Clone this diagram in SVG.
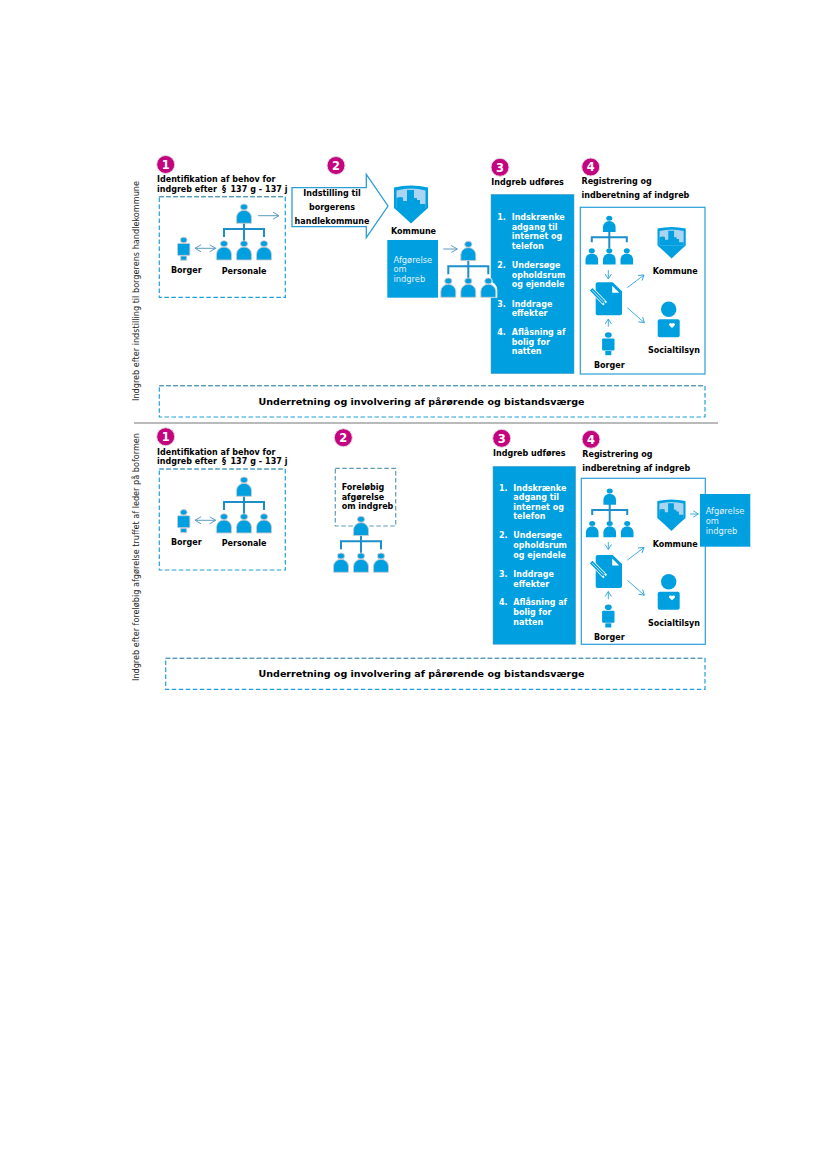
<svg xmlns="http://www.w3.org/2000/svg" width="827" height="1169" viewBox="0 0 827 1169">
<style>
text{font-family:"DejaVu Sans","Liberation Sans",sans-serif;fill:#000}
.b{font-weight:700;font-size:8px}
.u{font-weight:700;font-size:9.55px;text-anchor:middle}
.w{font-weight:700;font-size:8px;fill:#fff}
.a{font-size:8.3px;fill:#e3f3fb}
.r{font-size:9px;fill:#222}
.n{fill:#fff;font-size:11.5px;font-weight:700;text-anchor:middle}
.badge{fill:#c4037f;stroke:#e3d5de;stroke-width:1}
.blue{fill:#009fe0}
.dash{fill:none;stroke:#1ea0dc;stroke-width:1.2;stroke-dasharray:4.5 2.5}
.dasht{fill:none;stroke:#5f9ab5;stroke-width:1.2;stroke-dasharray:4.5 2.5}
.panel{fill:#fff;stroke:#2a9fd6;stroke-width:1.2}
.box{fill:#009fe0;stroke:#5f9fc0;stroke-width:.5}
.c1{fill:none;stroke:#5c9cc0;stroke-width:1;marker-end:url(#m)}
.c2{fill:none;stroke:#2aa5de;stroke-width:.9;marker-end:url(#m2)}
.org{fill:none;stroke:#1c8fca;stroke-width:2}
.hal{stroke:#c9ccd0;stroke-width:.9}
</style>
<defs>
<marker id="m" markerUnits="userSpaceOnUse" markerWidth="10" markerHeight="10" refX="7" refY="4" orient="auto-start-reverse"><path d="M1,.5 L7,4 L1,7.5" fill="none" stroke="#5c9cc0" stroke-width="1"/></marker>
<marker id="m2" markerUnits="userSpaceOnUse" markerWidth="10" markerHeight="10" refX="7" refY="4" orient="auto-start-reverse"><path d="M2,.8 L7,4 L2,7.2" fill="none" stroke="#2aa5de" stroke-width=".9"/></marker>
<g id="person"><ellipse cx="0" cy="0" rx="3.6" ry="3" class="blue"/><path d="M-7.5,16.3 V10.5 A7.5,7.2 0 0 1 7.5,10.5 V16.3 Z" class="blue"/></g>
<g id="orgbig">
<path class="org" d="M0,14 V36 M-20,30 V22 H20 V30"/>
<use href="#person" class="hal"/>
<use href="#person" class="hal" x="-20" y="36.7"/>
<use href="#person" class="hal" x="0" y="36.7"/>
<use href="#person" class="hal" x="20" y="36.7"/>
</g>
<g id="orgsmall">
<path class="org" d="M0,11 V30 M-17.5,24 V19 H17.5 V24"/>
<use href="#person" transform="scale(.84)"/>
<use href="#person" transform="translate(-17.5,32.5) scale(.84)"/>
<use href="#person" transform="translate(0,32.5) scale(.84)"/>
<use href="#person" transform="translate(17.5,32.5) scale(.84)"/>
</g>
<g id="citizen"><ellipse cx="0" cy="0" rx="3.4" ry="2.8" class="blue"/><rect x="-6.2" y="3.4" width="12.4" height="12" rx="1" class="blue"/><rect x="-3" y="16" width="6" height="4.2" class="blue"/></g>
<g id="shield">
<path class="blue" d="M0,2.5 Q17,-1.5 34,2.5 V23 Q26,30 17,38.5 Q8,30 0,23 Z"/>
<path fill="#a9d5f2" d="M2.5,5.5 Q17,1.5 31.5,5.5 V23 H2.5 Z"/>
<path class="blue" d="M2.5,23 V13 Q6,11.5 9,12.5 V16 H13 V5 H20 V13 H23 V15 H26 V19 H31.5 V23 Z"/>
</g>
<g id="doc">
<path class="blue" d="M2,0 H17 L26.3,9 V31 a2,2 0 0 1 -2,2 H2 a2,2 0 0 1 -2,-2 V2 a2,2 0 0 1 2,-2 Z"/>
<path fill="#fff" d="M16.5,3.5 V10.5 H23.5 Z"/>
<path d="M-4.5,7 L9.5,21.5" stroke="#fff" stroke-width="5.2"/>
<path d="M-4.5,7 L8,20" stroke="#009fe0" stroke-width="3.6"/>
<path d="M-3.5,8 L7.5,19.5" stroke="#fff" stroke-width=".7"/>
<path d="M8,20 L10,22" stroke="#009fe0" stroke-width="1.4"/>
</g>
<g id="social">
<circle cx="11" cy="-10" r="7.7" class="blue"/>
<rect x="0" y="0" width="22" height="18" rx="2" class="blue"/>
<path fill="#fff" d="M14.3,8.6 L11.3,5.8 A1.7,1.7 0 0 1 14.3,4.4 A1.7,1.7 0 0 1 17.3,5.8 Z"/>
</g>
</defs>
<rect width="827" height="1169" fill="#fff"/>

<g id="section-labels">
<text class="r" transform="translate(139,401) rotate(-90)" textLength="220" lengthAdjust="spacingAndGlyphs">Indgreb efter indstilling til borgerens handlekommune</text>
<text class="r" transform="translate(139,681) rotate(-90)" textLength="248" lengthAdjust="spacingAndGlyphs">Indgreb efter foreløbig afgørelse truffet af leder på boformen</text>
</g>
<line id="divider" x1="134" y1="423" x2="718" y2="423" stroke="#a3a3a3" stroke-width="1.4"/>

<g id="step1-top">
<circle class="badge" cx="165.7" cy="164.5" r="9"/><text class="n" x="165.7" y="168.7">1</text>
<text class="b" x="157" y="182">Identifikation af behov for</text>
<text class="b" x="157" y="192">indgreb efter<tspan x="222">§</tspan><tspan x="230.5" textLength="57">137 g - 137 j</tspan></text>
<rect class="dash" x="159.3" y="196.7" width="126" height="100.6"/>
<path class="dasht" d="M159.3,196.7 H285.3"/>
<use href="#orgbig" x="244" y="207"/>
<use href="#citizen" x="183.7" y="240" class="hal"/>
<text class="b" x="171" y="273">Borger</text>
<text class="b" x="221.7" y="273.7">Personale</text>
</g>

<g id="step2-top">
<circle class="badge" cx="336" cy="165.5" r="9"/><text class="n" x="336" y="169.7">2</text>
<path d="M292,187.7 H366.3 V174.3 L388,206 L366.3,237.7 V226.7 H292 Z" fill="#fff" stroke="#2a9fd6" stroke-width="1.3"/>
<text class="b" x="332" y="195.7" text-anchor="middle">Indstilling til</text>
<text class="b" x="332" y="209.7" text-anchor="middle">borgerens</text>
<text class="b" x="332" y="223.7" text-anchor="middle">handlekommune</text>
</g>

<g id="step3-top">
<circle class="badge" cx="500" cy="167.3" r="9"/><text class="n" x="500" y="171.5">3</text>
<text class="b" x="491.3" y="185">Indgreb udføres</text>
<rect class="box" x="491" y="194.3" width="83" height="179.4"/>
<text class="w" x="497.3" y="220">1.</text><text class="w" x="511.7" y="220">Indskrænke</text>
<text class="w" x="511.7" y="229.7">adgang til</text>
<text class="w" x="511.7" y="239">internet og</text>
<text class="w" x="511.7" y="248.7">telefon</text>
<text class="w" x="497.3" y="268">2.</text><text class="w" x="511.7" y="268">Undersøge</text>
<text class="w" x="511.7" y="277.7">opholdsrum</text>
<text class="w" x="511.7" y="287.3">og ejendele</text>
<text class="w" x="497.3" y="306.7">3.</text><text class="w" x="511.7" y="306.7">Inddrage</text>
<text class="w" x="511.7" y="316.3">effekter</text>
<text class="w" x="497.3" y="335">4.</text><text class="w" x="511.7" y="335">Aflåsning af</text>
<text class="w" x="511.7" y="344.7">bolig for</text>
<text class="w" x="511.7" y="354.3">natten</text>
</g>

<g id="kommune-top">
<use href="#shield" x="394" y="185"/>
<text class="b" x="391" y="234.3">Kommune</text>
<rect x="387.3" y="240" width="50.7" height="57.7" class="blue"/>
<text class="a" x="393.5" y="262.7">Afgørelse</text>
<text class="a" x="393.5" y="272.3">om</text>
<text class="a" x="393.5" y="282">indgreb</text>
<path d="M479.3,297.7 V290 A9,9 0 0 1 497.3,290 V297.7 Z M484,281 a4.3,4 0 0 1 8.6,0 a4.3,4 0 0 1 -8.6,0 Z" fill="#fff"/>
<use href="#orgbig" x="468.3" y="244.3"/>
</g>

<g id="step4-top">
<circle class="badge" cx="590.7" cy="167" r="9"/><text class="n" x="590.7" y="171.2">4</text>
<text class="b" x="581.5" y="184.3">Registrering og</text>
<text class="b" x="581.5" y="198.3">indberetning af indgreb</text>
<rect class="panel" x="580.3" y="207.3" width="124.7" height="166.7"/>
<use href="#orgsmall" x="609.3" y="218.3"/>
<use href="#doc" x="595.7" y="282.3"/>
<use href="#citizen" x="608.3" y="335"/>
<text class="b" x="594" y="367.7">Borger</text>
<use href="#shield" transform="translate(657.5,226.5) scale(.83)"/>
<text class="b" x="652.7" y="274.3">Kommune</text>
<use href="#social" x="657.7" y="319.3"/>
<text class="b" x="648" y="353.3">Socialtilsyn</text>
</g>

<g id="notice-top">
<rect class="dash" x="159.3" y="385.7" width="545.7" height="31.3"/>
<path class="dasht" d="M159.3,385.7 H705"/>
<text class="u" x="421.5" y="405">Underretning og involvering af pårørende og bistandsværge</text>
</g>

<g id="step1-bottom">
<circle class="badge" cx="165.7" cy="436.7" r="9"/><text class="n" x="165.7" y="440.9">1</text>
<text class="b" x="157" y="454.7">Identifikation af behov for</text>
<text class="b" x="157" y="464.3">indgreb efter<tspan x="222">§</tspan><tspan x="230.5" textLength="57">137 g - 137 j</tspan></text>
<rect class="dash" x="159.3" y="469" width="126" height="101"/>
<path class="dasht" d="M159.3,469 H285.3"/>
<use href="#orgbig" x="244" y="480"/>
<use href="#citizen" x="183.7" y="512.3" class="hal"/>
<text class="b" x="171" y="545">Borger</text>
<text class="b" x="221.7" y="545.7">Personale</text>
</g>

<g id="step2-bottom">
<circle class="badge" cx="343.3" cy="437.7" r="9"/><text class="n" x="343.3" y="441.9">2</text>
<rect class="dasht" x="335.3" y="468.3" width="60.4" height="57.7"/>
<text class="b" x="341.7" y="490.3">Foreløbig</text>
<text class="b" x="341.7" y="500">afgørelse</text>
<text class="b" x="341.7" y="509.3">om indgreb</text>
<use href="#orgbig" x="361" y="519.3"/>
</g>

<g id="step3-bottom">
<circle class="badge" cx="501.7" cy="438.3" r="9"/><text class="n" x="501.7" y="442.5">3</text>
<text class="b" x="493" y="456">Indgreb udføres</text>
<rect class="box" x="493" y="466.3" width="82.7" height="178"/>
<text class="w" x="499" y="490.7">1.</text><text class="w" x="513.3" y="490.7">Indskrænke</text>
<text class="w" x="513.3" y="500.3">adgang til</text>
<text class="w" x="513.3" y="510">internet og</text>
<text class="w" x="513.3" y="519.3">telefon</text>
<text class="w" x="499" y="538.3">2.</text><text class="w" x="513.3" y="538.3">Undersøge</text>
<text class="w" x="513.3" y="548">opholdsrum</text>
<text class="w" x="513.3" y="557.7">og ejendele</text>
<text class="w" x="499" y="577">3.</text><text class="w" x="513.3" y="577">Inddrage</text>
<text class="w" x="513.3" y="586.7">effekter</text>
<text class="w" x="499" y="605.3">4.</text><text class="w" x="513.3" y="605.3">Aflåsning af</text>
<text class="w" x="513.3" y="615">bolig for</text>
<text class="w" x="513.3" y="624.7">natten</text>
</g>

<g id="step4-bottom">
<circle class="badge" cx="591" cy="439.3" r="9"/><text class="n" x="591" y="443.5">4</text>
<text class="b" x="582.3" y="456.7">Registrering og</text>
<text class="b" x="582.3" y="470.7">indberetning af indgreb</text>
<rect class="panel" x="581.3" y="478.3" width="124" height="166"/>
<use href="#orgsmall" x="609.7" y="491"/>
<use href="#doc" x="595.7" y="555"/>
<use href="#citizen" x="608.3" y="607.3"/>
<text class="b" x="594" y="640.3">Borger</text>
<use href="#shield" transform="translate(657.3,499) scale(.83)"/>
<text class="b" x="652.7" y="546.7">Kommune</text>
<use href="#social" x="657.7" y="591.7"/>
<text class="b" x="648" y="625.7">Socialtilsyn</text>
<rect x="700" y="494" width="50.3" height="52.7" class="blue"/>
<text class="a" x="705.7" y="514.3">Afgørelse</text>
<text class="a" x="705.7" y="524">om</text>
<text class="a" x="705.7" y="533.7">indgreb</text>
</g>

<g id="notice-bottom">
<rect class="dash" x="165.7" y="658.3" width="539.3" height="31"/>
<path class="dasht" d="M165.7,658.3 H705"/>
<text class="u" x="421.5" y="677.3">Underretning og involvering af pårørende og bistandsværge</text>
</g>

<g id="connectors">
<path class="c1" d="M258,215.7 H279"/>
<path class="c1" d="M195,248.3 H215.7" marker-start="url(#m)"/>
<path class="c1" d="M443.3,249 H457.3"/>
<path class="c1" d="M195,520.3 H215.7" marker-start="url(#m)"/>
<path class="c2" d="M608.3,270 V279"/>
<path class="c2" d="M608.3,326.7 V319"/>
<path class="c2" d="M627.3,287.7 L644,275"/>
<path class="c2" d="M627.3,307.7 L644.3,322.7"/>
<path class="c2" d="M608.3,542 V549.5"/>
<path class="c2" d="M608.3,599.2 V591.5"/>
<path class="c2" d="M627.3,560.2 L644,547.5"/>
<path class="c2" d="M627.3,580.2 L644.3,595.2"/>
<path class="c2" d="M690,514 H698.3"/>
</g>
</svg>
